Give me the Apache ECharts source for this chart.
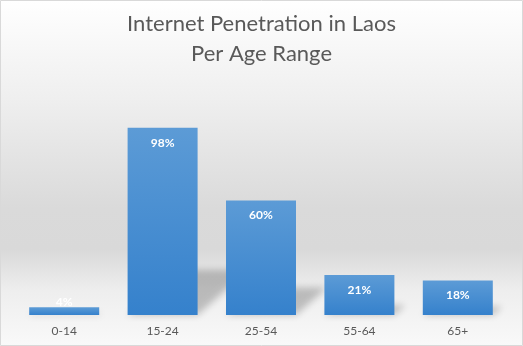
<!DOCTYPE html>
<html>
<head>
<meta charset="utf-8">
<script src="https://cdn.jsdelivr.net/npm/echarts@6/dist/echarts.min.js"></script>
<style>
html,body{margin:0;padding:0;background:#fff;}
#chart{width:523px;height:346px;}
</style>
</head>
<body>
<div id="chart"></div>
<script>
const titleText = 'Internet Penetration in Laos\nPer Age Range';
const categories = ['0-14', '15-24', '25-54', '55-64', '65+'];
const penetration = [4, 98, 60, 21, 18];

const BAR_W = 70;
const chart = echarts.init(document.getElementById('chart'));

const barData = penetration.map(v => v < 10
  ? { value: v, label: { position: 'top', distance: -1 } }
  : v);

const option = {
  animation: false,
  backgroundColor: new echarts.graphic.LinearGradient(0, 0, 0, 1, [
    { offset: 0, color: '#ffffff' },
    { offset: 0.3, color: '#eeeeee' },
    { offset: 0.6, color: '#dadada' },
    { offset: 0.72, color: '#d9d9d9' },
    { offset: 0.84, color: '#eeeeee' },
    { offset: 1, color: '#f9f9f9' }
  ]),
  title: {
    text: titleText,
    left: 'center',
    top: 4,
    textStyle: {
      fontFamily: 'Lato',
      fontSize: 22,
      fontWeight: 'normal',
      lineHeight: 30,
      color: '#595959'
    }
  },
  graphic: [{
    type: 'rect',
    shape: { x: 0.5, y: 0.5, width: 522, height: 345 },
    style: { fill: 'none', stroke: '#d9d9d9', lineWidth: 1 },
    z: 100
  }],
  grid: { left: 15, right: 16, top: 124, bottom: 31 },
  xAxis: {
    type: 'category',
    data: categories,
    axisLine: { show: false },
    axisTick: { show: false },
    axisLabel: {
      margin: 10,
      fontFamily: 'Lato',
      fontSize: 12,
      color: '#595959'
    }
  },
  yAxis: {
    type: 'value',
    min: 0,
    max: 100,
    show: false,
    splitLine: { show: false }
  },
  series: [
    {
      type: 'custom',
      z: 1,
      silent: true,
      data: penetration.map((v, i) => [i, v]),
      renderItem: function (params, api) {
        const base = api.coord([api.value(0), 0]);
        const top = api.coord([api.value(0), api.value(1)]);
        const h = base[1] - top[1];
        const x0 = base[0] - BAR_W / 2, x1 = base[0] + BAR_W / 2, y0 = base[1];
        const dx = 0.27 * h, dy = 0.24 * h;
        const S = 3000;
        return {
          type: 'polygon',
          shape: { points: [[x0 - S, y0], [x1 - S, y0], [x1 + dx - S, y0 - dy], [x0 + dx - S, y0 - dy]] },
          style: {
            fill: '#000',
            shadowColor: 'rgba(0,0,0,0.22)',
            shadowBlur: 7,
            shadowOffsetX: S,
            shadowOffsetY: 0
          }
        };
      }
    },
    {
      type: 'bar',
      z: 2,
      data: barData,
      barWidth: BAR_W,
      itemStyle: {
        color: new echarts.graphic.LinearGradient(0, 0, 0, 1, [
          { offset: 0, color: '#5c9bd6' },
          { offset: 1, color: '#3581cc' }
        ])
      },
      label: {
        show: true,
        position: 'insideTop',
        distance: 9,
        formatter: '{c}%',
        fontFamily: 'Lato',
        fontSize: 12,
        fontWeight: 'bold',
        color: '#ffffff'
      }
    }
  ]
};
chart.setOption(option);
</script>
</body>
</html>
